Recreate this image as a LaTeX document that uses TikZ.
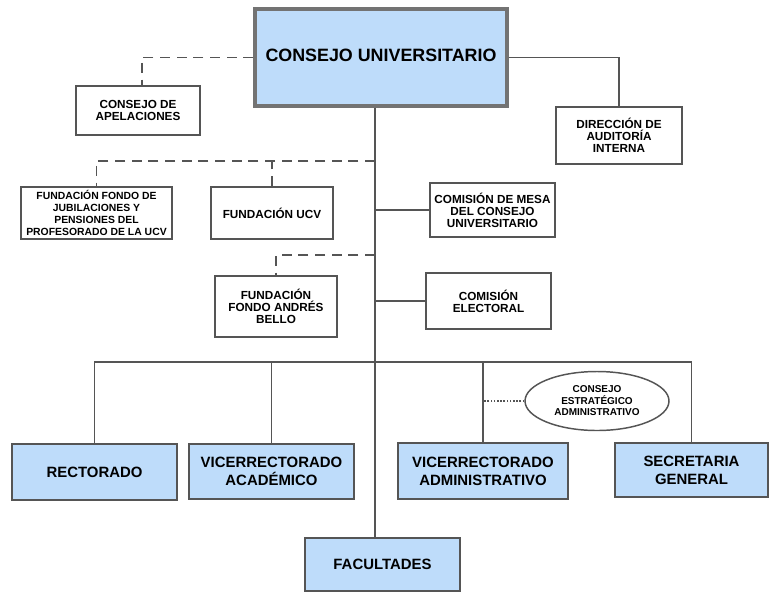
\documentclass[tikz,border=0pt]{standalone}
\usepackage{fontspec}
\setmainfont{Liberation Sans}
\usetikzlibrary{shapes.geometric}
\definecolor{orgblue}{HTML}{BEDCFA}
\definecolor{orgline}{HTML}{555555}

\begin{document}
\begin{tikzpicture}[x=0.75pt,y=-0.75pt,
 every node/.style={inner sep=1pt,align=center},
 box/.style={rectangle,draw=orgline,line width=1.5pt,fill=white,
   font=\bfseries\fontsize{8.8}{9}\selectfont},
 smallbox/.style={box,font=\bfseries\fontsize{7.8}{8.9}\selectfont},
 bluebox/.style={box,fill=orgblue,line width=1.8pt,
   font=\bfseries\fontsize{11.2}{13.3}\selectfont},
 topbox/.style={bluebox,line width=2.6pt,draw=black!55,
   font=\bfseries\fontsize{13.4}{15}\selectfont},
 oval/.style={ellipse,draw=orgline,line width=1.1pt,fill=white,
   font=\bfseries\fontsize{7.5}{8.6}\selectfont},
 link/.style={draw=orgline,line width=1.4pt},
 dashlink/.style={link,dash pattern=on 7.5pt off 5pt},
 dotlink/.style={draw=orgline,line width=0.9pt,dash pattern=on 1.2pt off 1.2pt}]

 \useasboundingbox (0,0) rectangle (770,593);

 \coordinate (tr) at (375,0);
 \coordinate (d1) at (375,161);
 \coordinate (d2) at (375,255);
 \coordinate (bus) at (375,362);

 \node[topbox,minimum width=189pt,minimum height=72.75pt] (cu) at (381,57.5)
   {\raisebox{3.5pt}{CONSEJO UNIVERSITARIO}};

 \node[box,minimum width=93pt,minimum height=36.75pt] (apel) at (138,110.5)
   {CONSEJO DE\\APELACIONES};
 \node[box,minimum width=94.5pt,minimum height=42.75pt] (audit) at (619,135.5)
   {DIRECCIÓN DE\\AUDITORÍA\\INTERNA};
 \node[smallbox,minimum width=113.25pt,minimum height=39pt] (jubil) at (96.5,213)
   {FUNDACIÓN FONDO DE\\JUBILACIONES Y\\PENSIONES DEL\\PROFESORADO DE LA UCV};
 \node[box,minimum width=91.5pt,minimum height=39pt] (fucv) at (272,213)
   {FUNDACIÓN UCV};
 \node[box,minimum width=93.75pt,minimum height=40.5pt] (mesa) at (492.5,210)
   {COMISIÓN DE MESA\\DEL CONSEJO\\UNIVERSITARIO};
 \node[box,minimum width=91.5pt,minimum height=45.75pt] (bello) at (276,306.5)
   {FUNDACIÓN\\FONDO ANDRÉS\\BELLO};
 \node[box,minimum width=93.75pt,minimum height=42pt] (elect) at (488.5,301)
   {COMISIÓN\\ELECTORAL};

 \node[bluebox,minimum width=123.75pt,minimum height=42pt] (rect) at (94.5,472)
   {RECTORADO};
 \node[bluebox,minimum width=123.75pt,minimum height=41.25pt] (vacad) at (271.5,471.5)
   {VICERRECTORADO\\ACADÉMICO};
 \node[bluebox,minimum width=127.5pt,minimum height=42pt] (vadm) at (483,471)
   {VICERRECTORADO\\ADMINISTRATIVO};
 \node[bluebox,minimum width=114.75pt,minimum height=40.5pt] (secg) at (691.5,470)
   {SECRETARIA\\GENERAL};
 \node[bluebox,minimum width=116.25pt,minimum height=39.75pt] (fac) at (382.5,564.5)
   {FACULTADES};

 \node[oval,minimum width=108pt,minimum height=44.25pt] (cea) at (597,401)
   {CONSEJO\\ESTRATÉGICO\\ADMINISTRATIVO};

 \draw[link] (cu.south -| tr) -- (fac.north -| tr);
 \draw[link] (cu.east) -| (audit.north);
 \draw[dashlink] (cu.west) -| ([xshift=3pt]apel.north);
 \draw[dashlink] (d1) -| (jubil.north);
 \draw[dashlink] (fucv.north) -- (fucv.north |- d1);
 \draw[link] (mesa.west) -- (mesa.west -| tr);
 \draw[dashlink] (d2) -| (bello.north);
 \draw[link] (elect.west) -- (elect.west -| tr);
 \draw[link] (rect.north) |- (secg.north |- bus) -- (secg.north);
 \draw[link] (vacad.north) -- (vacad.north |- bus);
 \draw[link] (vadm.north) -- (vadm.north |- bus);
 \draw[dotlink] (cea.west) -- (cea.west -| vadm.north);

\end{tikzpicture}
\end{document}
